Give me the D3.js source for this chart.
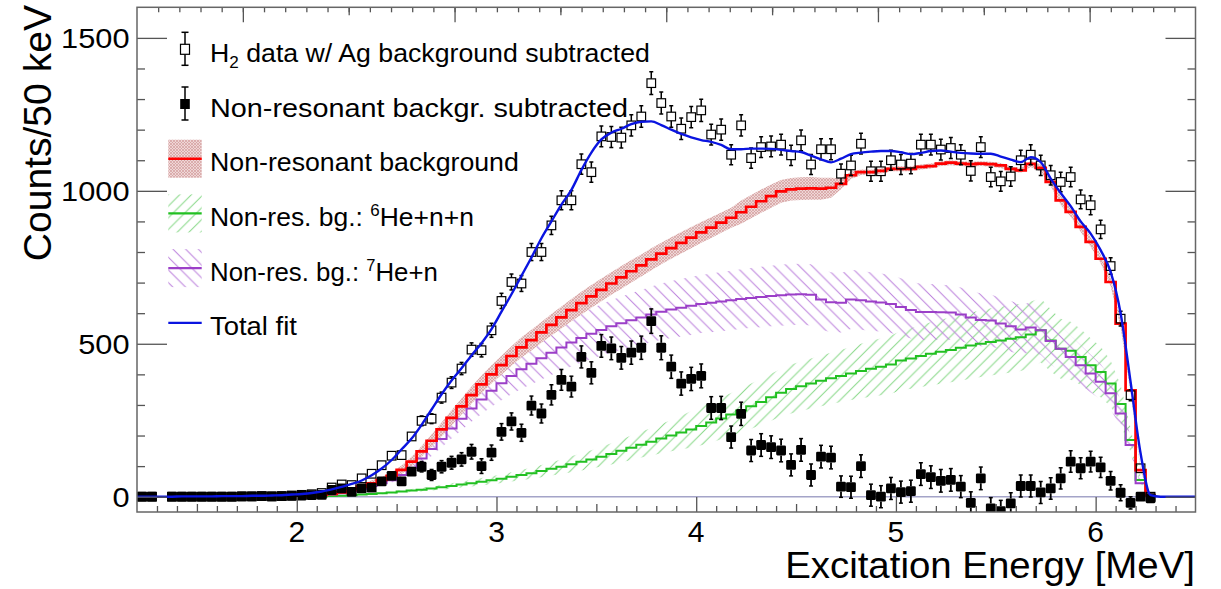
<!DOCTYPE html>
<html><head><meta charset="utf-8">
<script src="https://cdn.jsdelivr.net/npm/d3@7"></script>
<style>
html,body{margin:0;padding:0;background:#fff;}
svg{display:block;}
text{font-family:"Liberation Sans",Arial,Helvetica,sans-serif;fill:#000;}
</style></head><body>
<svg id="c" width="1221" height="589"></svg>
<script>
// ---------------- data ----------------
const binStart = 1.2, binWidth = 0.05, nBins = 106;
const xDomain = [1.2, 6.5], yDomain = [-50, 1600];
const xTickValues = [2, 3, 4, 5, 6];
const yTickValues = [0, 500, 1000, 1500];
const xTitle = "Excitation Energy [MeV]";
const yTitle = "Counts/50 keV";

// H2 data w/ Ag background subtracted (open squares), bins 0..101
const h2Data = [
 0,0,null,0,0,0,0,0,0,0,
 1,1,2,1,2,4,6,8,12,30,
 40,38,60,75,103,134,136,197,248,255,
 324,373,419,481,479,544,640,702,697,800,
 800,887,969,969,1087,1061,1178,1176,1174,1214,
 1243,1352,1287,1243,1203,1241,1263,1184,1200,1118,
 1214,1107,1143,1145,1151,1116,1165,1086,1136,1136,
 1056,1083,1154,1064,1064,1100,1086,1089,1151,1151,
 1135,1140,1118,1065,1143,1045,1031,1047,1100,1118,
 1083,1051,1029,1045,972,953,874,754,582,332,
 93,0];
const h2Err = [
 0,0,null,0,0,0,0,0,0,0,
 1,1,1,1,1,2,2,3,3,5,
 6,6,8,9,10,11,11,14,16,16,
 18,19,20,22,22,23,25,26,26,28,
 28,30,31,31,33,33,34,34,34,35,
 35,37,36,35,35,35,36,34,35,33,
 35,33,34,34,34,33,34,33,34,34,
 32,33,34,33,33,33,33,33,34,34,
 34,34,33,33,34,32,32,32,33,33,
 33,32,32,32,31,31,30,27,24,18,
 10,1];
// Non-resonant background subtracted (filled squares)
const bgSubData = [
 0,0,null,0,0,0,0,0,0,0,
 1,1,2,1,2,3,4,5,6,22,
 27,16,27,30,50,68,50,82,98,71,
 98,111,122,147,100,144,212,246,209,298,
 272,333,382,360,457,405,493,485,454,471,
 487,574,487,425,370,385,395,290,290,195,
 271,151,169,162,151,104,153,71,131,128,
 33,31,100,5,0,27,15,18,74,64,
 52,55,33,-20,60,-38,-47,-22,35,35,
 14,27,60,115,93,115,96,52,13,-20,
 0,-5];
const bgSubErr = [
 0,0,null,0,0,0,0,0,0,0,
 1,1,1,1,2,2,3,3,4,5,
 7,7,8,9,11,12,12,15,17,18,
 20,21,22,24,24,25,27,28,28,31,
 31,33,34,34,36,36,37,37,37,38,
 38,40,39,38,38,38,39,37,38,36,
 38,36,37,37,37,36,37,36,37,37,
 35,36,37,36,36,36,36,36,37,37,
 37,37,36,36,37,35,35,35,36,36,
 36,35,35,35,34,34,33,30,26,20,
 11,2];
// Non-resonant background (red histogram + band), bins 0..105
const bgTotal = [
 0,0,0,0,0,0,0,0,0,0,
 0,0,0,0,0,1,2,4,6,9,
 14,22,33,44,55,68,88,115,148,183,
 220,258,295,332,367,400,430,460,488,512,
 537,562,586,610,633,655,676,697,717,737,
 756,776,795,813,830,847,864,880,896,912,
 930,948,966,983,998,1005,1007,1008,1007,1010,
 1023,1051,1061,1061,1065,1072,1072,1072,1078,1081,
 1089,1092,1089,1087,1089,1087,1083,1072,1067,1088,
 1075,1029,969,931,882,833,778,702,566,348,
 87,5,0,0,0,0];
const bgTotalErr = [
 0,0,0,0,0,0,0,0,0,0,
 0,0,0,0,0,1,1,2,3,4,
 5,6,7,9,10,12,14,16,18,20,
 23,25,26,28,29,30,31,32,33,34,
 34,35,36,36,37,37,37,37,37,37,
 36,36,35,35,35,35,34,34,33,33,
 38,38,38,38,37,37,37,37,36,33,
 18,12,9,8,8,8,8,8,8,8,
 8,8,8,8,8,8,8,8,8,10,
 12,13,15,16,16,16,15,14,12,8,
 4,1,0,0,0,0];
// Non-res. bg.: 7He+n (purple)
const bg7He = [
 0,0,0,0,0,0,0,0,0,0,
 0,0,0,0,0,0,1,3,5,7,
 11,17,26,35,44,54,71,95,125,156,
 189,223,255,288,318,346,371,395,417,435,
 453,471,488,504,519,533,545,557,567,577,
 586,596,605,612,618,624,630,634,638,642,
 646,650,653,656,659,661,662,660,645,636,
 634,645,642,638,635,630,620,610,604,604,
 603,602,596,586,578,576,566,557,547,553,
 544,509,484,457,430,403,376,338,272,169,
 44,4,0,0,0,0];
const bg7HeErr = [
 0,0,0,0,0,0,0,0,0,0,
 0,0,0,0,0,0,0,1,1,1,
 2,3,4,5,6,8,11,15,19,23,
 28,33,38,43,48,52,56,60,64,67,
 70,73,75,78,80,82,84,86,87,89,
 90,91,92,93,94,95,95,96,97,97,
 98,98,99,99,100,100,100,100,99,98,
 97,97,96,96,95,95,94,93,92,91,
 90,89,88,87,86,85,84,83,82,81,
 80,77,74,70,66,62,58,53,45,28,
 8,1,0,0,0,0];
// Non-res. bg.: 6He+n+n (green)
const bg6He = [
 0,0,0,0,0,0,0,0,0,0,
 0,0,0,0,0,0,0,1,1,2,
 3,5,7,9,11,14,17,20,23,27,
 31,35,40,44,49,54,59,65,71,77,
 84,91,98,106,114,122,131,140,150,160,
 170,180,190,200,210,220,231,243,256,269,
 282,296,310,325,340,352,361,370,379,387,
 395,403,411,418,425,432,445,452,460,467,
 474,480,487,494,500,506,511,516,521,530,
 544,511,484,477,457,430,408,370,303,185,
 55,4,0,0,0,0];
const bg6HeErr = [
 0,0,0,0,0,0,0,0,0,0,
 0,0,0,0,0,0,0,0,0,0,
 1,1,2,2,3,4,5,5,6,7,
 8,9,10,11,12,13,14,15,17,18,
 20,22,24,26,28,30,32,35,37,40,
 42,45,48,51,55,60,63,66,68,70,
 72,74,75,77,78,80,81,82,83,84,
 85,87,89,91,93,95,97,99,101,103,
 105,106,107,108,109,110,110,110,110,108,
 105,102,98,95,91,88,83,75,62,40,
 12,1,0,0,0,0];
// Total fit (blue), at bin centres
const totalFit = [
 0,0,0,0,1,1,1,1,2,2,
 2,3,3,4,5,7,9,12,17,24,
 32,42,53,70,92,120,155,190,235,285,
 335,380,420,462,502,548,605,662,722,782,
 845,900,955,1003,1068,1125,1168,1190,1203,1218,
 1226,1227,1215,1200,1186,1175,1166,1160,1150,1136,
 1136,1138,1138,1137,1134,1130,1127,1115,1103,1093,
 1105,1120,1125,1128,1130,1130,1126,1120,1124,1130,
 1132,1128,1124,1122,1121,1121,1112,1102,1094,1110,
 1094,1040,993,950,900,860,806,735,600,375,
 142,5,0,0,0,0];

const legendEntries = [
  {sym:"open",  parts:[["H",""],["2","sub"],[" data w/ Ag background subtracted",""]], w:440},
  {sym:"filled",parts:[["Non-resonant backgr. subtracted",""]], w:418},
  {sym:"red",   parts:[["Non-resonant background",""]], w:309},
  {sym:"green", parts:[["Non-res. bg.: ",""],["6","sup"],["He+n+n",""]], w:264},
  {sym:"purple",parts:[["Non-res. bg.: ",""],["7","sup"],["He+n",""]], w:228},
  {sym:"blue",  parts:[["Total fit",""]], w:87}
];

// ---------------- drawing ----------------
const svg = d3.select("#c");
const L = 137, R = 1195.5, T = 7.3, B = 512;
const x = d3.scaleLinear().domain(xDomain).range([L, R]);
const y = d3.scaleLinear().domain(yDomain).range([B, T]);
const cen = i => binStart + (i + 0.5) * binWidth;
const edge = i => binStart + i * binWidth;

const COL = {red:"#ff0000", purple:"#9b3fc8", green:"#22c022", blue:"#0a14e0",
             purpleH:"#bb80dc", greenH:"#86d886", zero:"#a4a4c8", axis:"#555"};

const defs = svg.append("defs");
defs.append("clipPath").attr("id","plotClip").append("rect")
  .attr("x",L).attr("y",T).attr("width",R-L).attr("height",B-T);

function hatch(id, s, dir, color, w) {
  const p = defs.append("pattern").attr("id",id).attr("patternUnits","userSpaceOnUse")
    .attr("width",s).attr("height",s);
  const d = dir === "\\"
    ? `M0,0L${s},${s}M-1,${s-1}L1,${s+1}M${s-1},-1L${s+1},1`
    : `M0,${s}L${s},0M-1,1L1,-1M${s-1},${s+1}L${s+1},${s-1}`;
  p.append("path").attr("d",d).attr("stroke",color).attr("stroke-width",w).attr("fill","none");
}
hatch("hPurple", 12.7, "\\", COL.purpleH, 1);
hatch("hGreen", 11.7, "/", COL.greenH, 1);
{
  const p = defs.append("pattern").attr("id","hRed").attr("patternUnits","userSpaceOnUse")
    .attr("width",3).attr("height",3);
  p.append("rect").attr("width",3).attr("height",3).attr("fill","#efd6d6");
  p.append("path").attr("d","M0,0L3,3M0,3L3,0").attr("stroke","#d29c9c").attr("stroke-width",0.7);
}

const plot = svg.append("g").attr("clip-path","url(#plotClip)");

// bands
function band(vals, errs, fill) {
  const pts = vals.map((v,i)=>({i,v,e:errs[i]})).filter(d=>d.e>0);
  const area = d3.area().x(d=>x(cen(d.i))).y0(d=>y(d.v-d.e)).y1(d=>y(d.v+d.e));
  plot.append("path").attr("d",area(pts)).attr("fill",fill).attr("stroke","none");
}
band(bg6He, bg6HeErr, "url(#hGreen)");
band(bg7He, bg7HeErr, "url(#hPurple)");
band(bgTotal, bgTotalErr, "url(#hRed)");

// zero line
plot.append("line").attr("x1",L).attr("x2",R).attr("y1",y(0)).attr("y2",y(0))
  .attr("stroke",COL.zero).attr("stroke-width",1.5);

// histograms
function hist(vals, color, w) {
  let a = vals.findIndex(v=>v>0), b = vals.length-1;
  while (b>0 && !(vals[b]>0)) b--;
  const pts = [];
  for (let i=a;i<=b;i++) pts.push([x(edge(i)), y(vals[i])]);
  pts.push([x(edge(b+1)), y(vals[b])]);
  const line = d3.line().curve(d3.curveStepAfter);
  plot.append("path").attr("d",line(pts)).attr("fill","none").attr("stroke",color)
    .attr("stroke-width",w).attr("stroke-linejoin","miter");
}
hist(bg6He, COL.green, 2);
hist(bg7He, COL.purple, 2);
hist(bgTotal, COL.red, 2.7);

// points with error bars
function points(vals, errs, filled) {
  const half = filled ? 4.9 : 4.3, cap = 2;
  const g = plot.append("g");
  const data = vals.map((v,i)=>({i,v,e:errs[i]})).filter(d=>d.v!==null);
  data.forEach(d=>{
    const cx = x(cen(d.i)), cy = y(d.v), yt = y(d.v+d.e), yb = y(d.v-d.e);
    const sw = filled ? 1.8 : 1.5;
    if (cy - half > yt) {
      g.append("line").attr("x1",cx).attr("x2",cx).attr("y1",yt).attr("y2",cy-half).attr("stroke","#000").attr("stroke-width",sw);
      g.append("line").attr("x1",cx-cap).attr("x2",cx+cap).attr("y1",yt).attr("y2",yt).attr("stroke","#000").attr("stroke-width",1.5);
    }
    if (yb > cy + half) {
      g.append("line").attr("x1",cx).attr("x2",cx).attr("y1",cy+half).attr("y2",yb).attr("stroke","#000").attr("stroke-width",sw);
      g.append("line").attr("x1",cx-cap).attr("x2",cx+cap).attr("y1",yb).attr("y2",yb).attr("stroke","#000").attr("stroke-width",1.5);
    }
    if (filled) g.append("rect").attr("x",cx-half).attr("y",cy-half).attr("width",2*half).attr("height",2*half)
          .attr("rx",1.3).attr("fill","#000");
    else g.append("rect").attr("x",cx-half).attr("y",cy-half).attr("width",2*half).attr("height",2*half)
          .attr("fill","none").attr("stroke","#000").attr("stroke-width",1.2);
  });
}
points(bgSubData, bgSubErr, true);
points(h2Data, h2Err, false);

// total fit
{
  const pts = totalFit.map((v,i)=>[x(cen(i)), y(v)]);
  pts.unshift([x(xDomain[0]), y(totalFit[0])]);
  pts.push([x(xDomain[1]), y(totalFit[totalFit.length-1])]);
  plot.append("path").attr("d", d3.line().curve(d3.curveMonotoneX)(pts))
    .attr("fill","none").attr("stroke",COL.blue).attr("stroke-width",2.4);
}

// ---------------- axes ----------------
function styleAxis(g){ g.select(".domain").remove(); g.selectAll("line").attr("stroke",COL.axis).attr("stroke-width",1.3); }
const minorX = d3.range(13, 65).map(k=>k/10).filter(v=>Math.abs(v*2-Math.round(v*2))>1e-6);
const medX = [1.5,2.5,3.5,4.5,5.5];
const minorY = d3.range(1, 16).map(k=>k*100).filter(v=>v%500!==0);

// bottom
const gB = svg.append("g").attr("transform",`translate(0,${B})`);
gB.append("g").call(d3.axisBottom(x).tickValues(minorX).tickSize(-6).tickFormat("")).call(styleAxis);
gB.append("g").call(d3.axisBottom(x).tickValues(medX).tickSize(-8).tickFormat("")).call(styleAxis);
gB.append("g").call(d3.axisBottom(x).tickValues(xTickValues).tickSize(-15).tickFormat("")).call(styleAxis);
svg.append("g").selectAll("text").data(xTickValues).join("text")
  .attr("x",d=>x(d)).attr("y",541.5).attr("text-anchor","middle").attr("font-size",30)
  .text(d3.format("d"));

// top (frame ticks)
const xTop = d3.scaleLinear().domain([0,5]).range([L,R]);
const gT = svg.append("g").attr("transform",`translate(0,${T})`);
gT.append("g").call(d3.axisTop(xTop).tickValues(d3.range(1,50).map(k=>k/10)).tickSize(-5).tickFormat("")).call(styleAxis);
gT.append("g").call(d3.axisTop(xTop).tickValues([1,2,3,4]).tickSize(-8).tickFormat("")).call(styleAxis);
gT.append("g").call(d3.axisTop(xTop).tickValues([0.5,1.5,2.5,3.5,4.5]).tickSize(-15).tickFormat("")).call(styleAxis);

// left
const gL = svg.append("g").attr("transform",`translate(${L},0)`);
gL.append("g").call(d3.axisLeft(y).tickValues(minorY).tickSize(-8).tickFormat("")).call(styleAxis);
gL.append("g").call(d3.axisLeft(y).tickValues(yTickValues).tickSize(-30).tickFormat("")).call(styleAxis);
svg.append("g").selectAll("text").data(yTickValues).join("text")
  .attr("x",129.5).attr("y",d=>y(d)+10).attr("text-anchor","end").attr("font-size",28.5)
  .attr("textLength",d=>String(d).length*17.1).attr("lengthAdjust","spacingAndGlyphs")
  .text(d3.format("d"));
// right
const gR = svg.append("g").attr("transform",`translate(${R},0)`);
gR.append("g").call(d3.axisRight(y).tickValues(minorY).tickSize(-8).tickFormat("")).call(styleAxis);
gR.append("g").call(d3.axisRight(y).tickValues(yTickValues).tickSize(-30).tickFormat("")).call(styleAxis);

// frame
svg.append("rect").attr("x",L).attr("y",T).attr("width",R-L).attr("height",B-T)
  .attr("fill","none").attr("stroke","#666").attr("stroke-width",1.5);

// titles
function fitText(sel, targetW) {
  const w = sel.node().getBBox().width;
  return targetW / w;
}
{
  const t = svg.append("text").attr("x",0).attr("y",0).attr("font-size",37).attr("text-anchor","end").text(xTitle);
  const s = fitText(t, 410);
  t.attr("transform",`translate(1195,578) scale(${s},1)`);
}
{
  const t = svg.append("text").attr("x",0).attr("y",0).attr("font-size",39.5).attr("text-anchor","end").text(yTitle);
  const s = fitText(t, 257);
  t.attr("transform",`translate(50.5,5) rotate(-90) scale(${s},1)`);
}

// ---------------- legend ----------------
const lg = svg.append("g");
const rowY0 = 49.3, rowDY = 54.7, symX = 185, boxL = 168.3, boxW = 33.4, boxH = 38, textX = 210;
legendEntries.forEach((e,k)=>{
  const cy = rowY0 + k*rowDY;
  if (e.sym==="open" || e.sym==="filled") {
    lg.append("line").attr("x1",symX).attr("x2",symX).attr("y1",cy-17).attr("y2",cy+16).attr("stroke","#000").attr("stroke-width",1.5);
    lg.append("line").attr("x1",symX-3.5).attr("x2",symX+3.5).attr("y1",cy-17).attr("y2",cy-17).attr("stroke","#000").attr("stroke-width",1.5);
    lg.append("line").attr("x1",symX-3.5).attr("x2",symX+3.5).attr("y1",cy+16).attr("y2",cy+16).attr("stroke","#000").attr("stroke-width",1.5);
    if (e.sym==="open") lg.append("rect").attr("x",symX-4.5).attr("y",cy-5).attr("width",9).attr("height",10).attr("fill","#fff").attr("stroke","#000").attr("stroke-width",1.2);
    else lg.append("rect").attr("x",symX-4.8).attr("y",cy-5).attr("width",9.6).attr("height",10).attr("fill","#000");
  } else if (e.sym==="blue") {
    lg.append("line").attr("x1",boxL).attr("x2",boxL+boxW).attr("y1",cy).attr("y2",cy).attr("stroke",COL.blue).attr("stroke-width",2.2);
  } else {
    const fill = {red:"url(#hRed)", green:"url(#hGreen)", purple:"url(#hPurple)"}[e.sym];
    const lc = {red:COL.red, green:COL.green, purple:COL.purple}[e.sym];
    lg.append("rect").attr("x",boxL).attr("y",cy-boxH/2).attr("width",boxW).attr("height",boxH).attr("fill",fill);
    lg.append("line").attr("x1",boxL).attr("x2",boxL+boxW).attr("y1",cy).attr("y2",cy).attr("stroke",lc).attr("stroke-width",e.sym==="red"?2.6:2.2);
  }
  const t = lg.append("text").attr("x",0).attr("y",0).attr("font-size",25);
  e.parts.forEach(([s,kind],j)=>{
    const ts = t.append("tspan").text(s);
    if (kind==="sub") ts.attr("font-size",16).attr("dy",6);
    if (kind==="sup") ts.attr("font-size",16).attr("dy",-10);
    if (kind==="" && j>0) {
      const prev = e.parts[j-1][1];
      if (prev==="sub") ts.attr("dy",-6);
      if (prev==="sup") ts.attr("dy",10);
    }
  });
  const s = fitText(t, e.w);
  t.attr("transform",`translate(${textX},${cy+12.5}) scale(${s},1)`);
});
</script>
</body></html>
